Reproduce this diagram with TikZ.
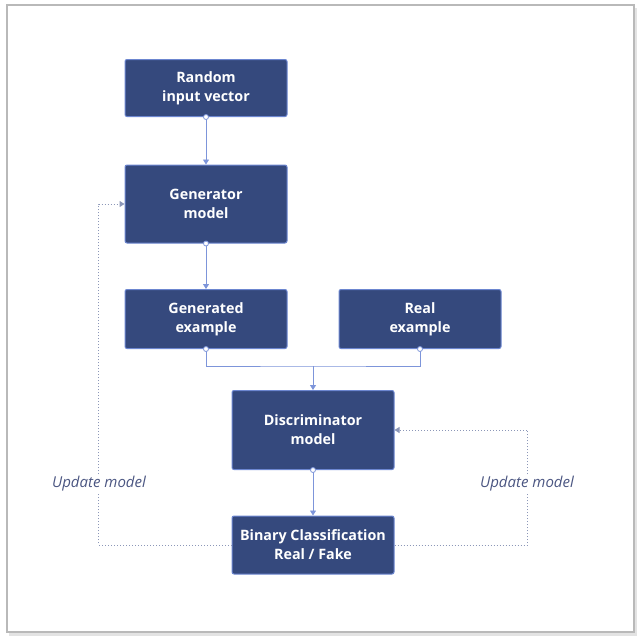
\documentclass[tikz,border=0pt]{standalone}
\usepackage{fontspec}
\setmainfont{Open Sans}
\usetikzlibrary{arrows.meta,calc}
\definecolor{boxfill}{HTML}{35497D}
\definecolor{boxedge}{HTML}{6C86D0}
\definecolor{connc}{HTML}{7D95DA}
\definecolor{dotc}{HTML}{8C97B8}
\definecolor{labc}{HTML}{4B5682}
\begin{document}
\begin{tikzpicture}[x=1pt,y=-1pt,
 box/.style={draw=boxedge, fill=boxfill, line width=1pt, rounded corners=2pt, text=white, font=\bfseries\fontsize{14.3}{19}\selectfont, align=center, minimum width=162pt, inner sep=0pt},
 conn/.style={draw=connc, line width=0.9pt, -{Triangle[length=5pt,width=6pt]}},
 plainconn/.style={draw=connc, line width=0.9pt},
 startpt/.style={circle, draw=connc, fill=white, line width=0.8pt, minimum size=5pt, inner sep=0pt},
 fb/.style={draw=dotc, line width=1pt, dotted, -{Triangle[length=5pt,width=6pt]}},
 lab/.style={font=\itshape\fontsize{15}{17}\selectfont, text=labc, fill=white, inner sep=2pt}]
\useasboundingbox (0,0) rectangle (643,641);
\fill[gray!22] (9,8) rectangle (637,636);
\draw[fill=white, draw=gray!55, line width=1.2pt] (7,5) rectangle (634,632);

\node[box, minimum height=57pt] (rand) at (206,88) {Random\\input vector};
\node[box, minimum height=78pt] (gen) at (206,204) {Generator\\model};
\node[box, minimum height=59pt] (gend) at (206,319) {Generated\\example};
\node[box, minimum height=59pt] (real) at (420,319) {Real\\example};
\node[box, minimum height=79pt] (disc) at (313,430) {Discriminator\\model};
\node[box, minimum height=58pt] (bin) at (313,545) {Binary Classification\\Real / Fake};

\draw[conn] (rand.south) -- (gen.north);
\draw[conn] (gen.south) -- (gend.north);
\coordinate (m) at (313,366);
\draw[plainconn] (gend.south) |- (m) -| (real.south);
\draw[conn] (m) -- (disc.north);
\draw[conn] (disc.south) -- (bin.north);

\foreach \n in {rand,gen,gend,real,disc} \node[startpt] at (\n.south) {};

\draw[fb] (bin.west) -- ++(-133,0) |- (gen.west);
\draw[fb] (bin.east) -- ++(133,0) |- (disc.east);
\node[lab] (l1) at (99,484) {Update model};
\node[lab] (l2) at (527,484) {Update model};
\end{tikzpicture}
\end{document}
